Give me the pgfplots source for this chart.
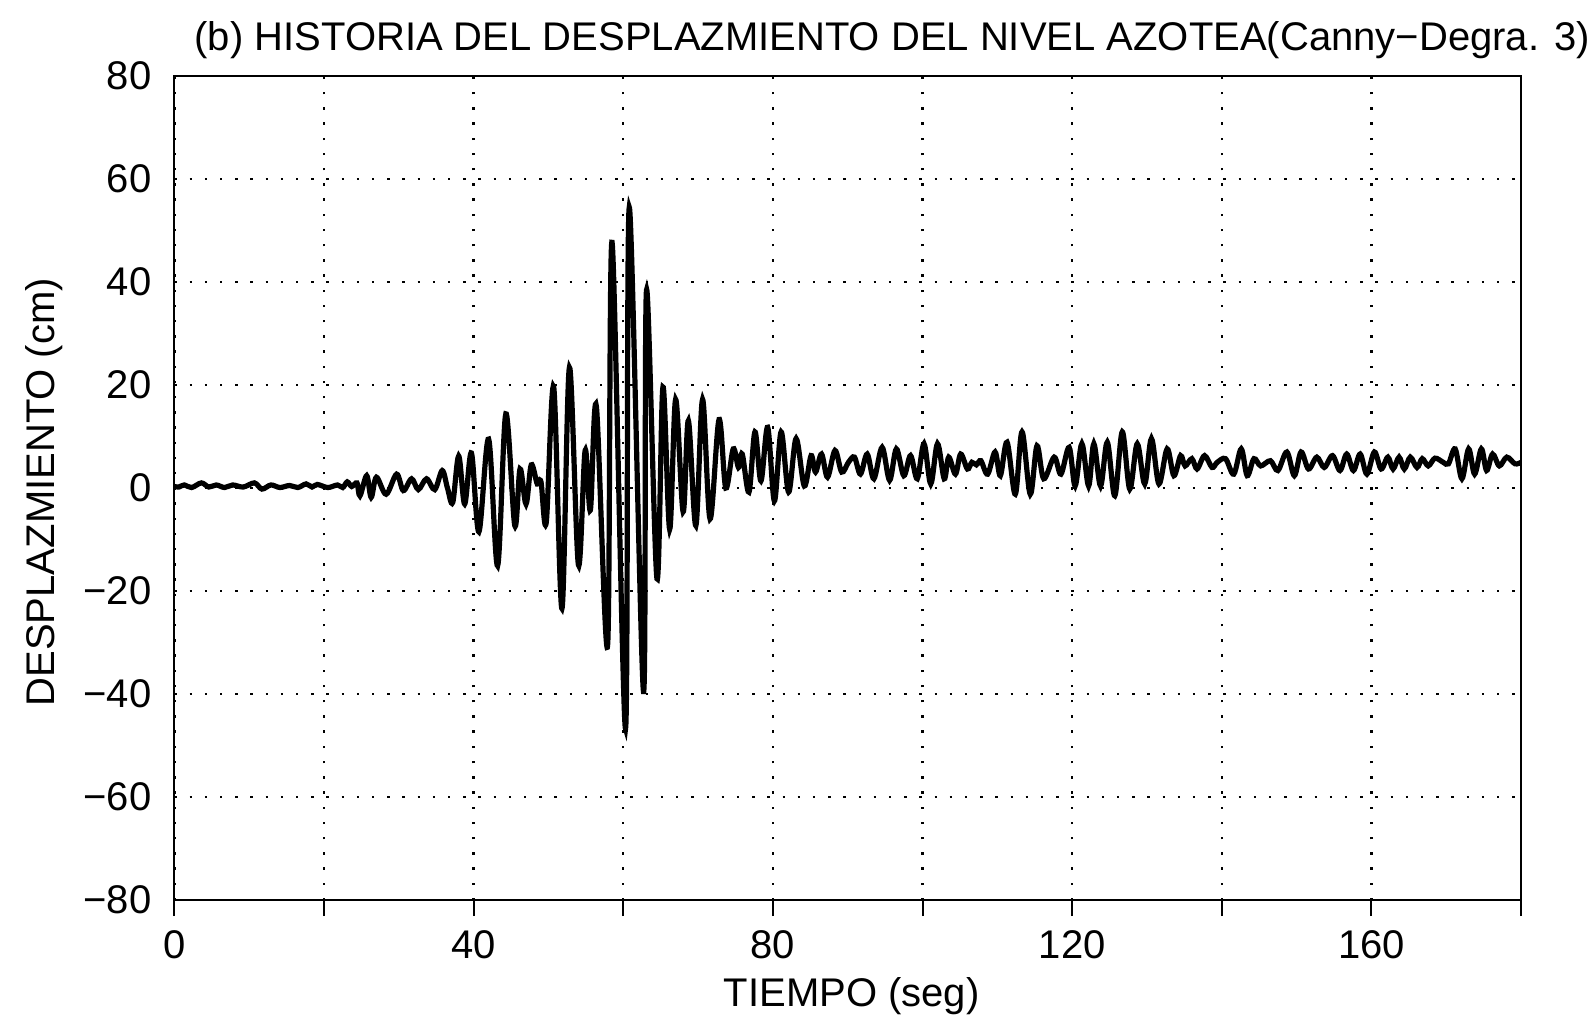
\documentclass[border=0pt]{standalone}
\usepackage{fontspec}
\setmainfont{Liberation Sans}
\usepackage{pgfplots}
\usepackage{pgfplotstable}
\pgfplotsset{compat=1.18}
\pgfplotstableread{
t v
0 0.3
0.6 0.2
1.3 0.6
2.3 0.1
3.6 1.0
4.6 0.2
5.6 0.6
6.7 0.1
7.8 0.6
9.2 0.2
10.7 1.0
11.7 -0.2
12.9 0.6
14.1 0.1
15.4 0.5
16.5 0.1
17.6 0.8
18.4 0.2
19.1 0.7
20.5 0.1
21.8 0.6
22.5 0.1
23.1 1.2
23.7 0.3
24.4 1.0
24.8 -1.5
25.7 2.4
26.3 -1.8
27.0 2.1
28.3 -1.2
29.7 2.7
30.6 -0.5
31.7 1.8
32.6 -0.3
33.7 1.8
34.8 -0.3
35.8 3.4
36.5 0.0
37.2 -2.8
38.0 6.2
38.8 -3.1
39.7 6.8
40.7 -8.5
42.0 9.5
43.2 -15.1
44.3 14.4
45.5 -7.3
46.2 3.7
47.0 -3.1
47.7 4.5
48.5 0.8
49.0 1.2
49.7 -6.7
50.7 19.6
51.8 -23.4
52.8 23.4
54.0 -14.9
54.9 7.3
55.6 -4.3
56.4 15.9
57.9 -30.6
58.5 47.7
60.3 -46.7
60.8 54.5
62.7 -39.5
63.1 38.4
64.5 -17.6
65.3 19.6
66.2 -8.0
67.0 17.2
68.0 -4.6
68.7 13.1
69.7 -7.3
70.6 17.2
71.6 -6.0
72.8 13.3
73.7 0.0
74.7 7.6
75.4 4.0
75.9 6.6
76.8 -0.8
77.6 10.9
78.4 1.4
79.3 11.8
80.2 -2.5
81.1 10.9
82.1 -0.8
83.1 9.6
84.2 0.4
85.1 6.3
85.7 3.1
86.5 6.6
87.3 2.1
88.3 7.3
89.2 3.1
90.1 5.0
90.9 6.0
91.7 2.7
92.6 6.6
93.5 1.8
94.6 7.9
95.6 1.5
96.5 7.6
97.5 2.4
98.4 6.3
99.3 1.8
100.2 8.6
101.1 0.8
102.0 8.6
102.9 1.8
103.5 6.0
104.4 2.7
105.1 6.6
106.0 3.7
106.6 5.0
107.2 4.5
107.8 5.3
108.7 2.7
109.7 7.0
110.4 2.4
111.3 8.9
112.4 -1.2
113.3 10.9
114.4 -1.2
115.3 8.2
116.2 1.8
117.6 6.0
118.5 2.7
119.6 7.9
120.4 0.4
121.3 8.6
122.2 0.4
122.9 8.6
123.8 0.4
124.7 8.9
125.7 -1.5
126.7 10.9
127.7 -0.2
128.7 8.6
129.7 0.8
130.6 9.6
131.6 0.8
132.7 7.6
133.6 2.4
134.5 6.3
135.1 4.3
136.0 5.7
136.7 3.7
137.7 6.3
138.7 4.0
139.4 5.0
140.5 5.7
141.6 2.7
142.6 7.6
143.4 2.4
144.3 5.7
145.2 4.3
146.5 5.3
147.5 3.4
148.7 7.0
149.7 2.4
150.6 7.0
151.6 3.7
152.7 6.0
153.7 4.0
154.8 6.3
155.8 3.4
156.7 6.6
157.6 3.4
158.5 6.6
159.4 2.7
160.4 7.0
161.3 3.7
162.2 6.0
162.9 3.7
163.7 6.0
164.4 3.7
165.2 6.0
166.1 4.0
166.8 5.7
167.6 4.3
168.5 5.8
169.6 5.0
170.3 4.7
171.2 7.6
172.1 1.8
173.0 7.6
173.8 2.7
174.7 7.6
175.4 3.4
176.2 6.6
177.1 4.3
178.1 6.0
179.2 4.7
180 5.0
}\disp
\begin{document}
\begin{tikzpicture}
\useasboundingbox (-43.6pt,-31.75pt) rectangle (354.1pt,225pt);
\begin{axis}[
  at={(0,0)}, anchor=south west,
  scale only axis, width=336.6pt, height=206pt,
  xmin=0, xmax=180, ymin=-80, ymax=80,
  xtick={0,20,...,180}, xticklabels={0,,40,,80,,120,,160,},
  ytick={-80,-60,...,80}, yticklabels={−80,−60,−40,−20,0,20,40,60,80},
  grid=major,
  major grid style={black, line width=0.6pt, dash pattern=on 0.6pt off 3.2pt},
  axis line style={line width=0.5pt},
  xtick pos=bottom, ytick pos=left, tick align=outside,
  major tick length=4pt,
  xtick style={black, line width=0.5pt},
  ytick style={draw=none},
  ticklabel style={font=\fontsize{10}{12}\selectfont},
  yticklabel style={xshift=1.8pt},
  every axis title shift=0pt,
  title={(b) HISTORIA DEL DESPLAZMIENTO DEL NIVEL AZOTEA(Canny−Degra. 3)},
  title style={at={(0.533,1.044)}, anchor=center, yshift=0pt, font=\fontsize{10}{12}\selectfont},
  xlabel={TIEMPO (seg)},
  xlabel style={at={(0.503,-0.117)}, anchor=center, font=\fontsize{10}{12}\selectfont},
  ylabel={DESPLAZMIENTO (cm)},
  ylabel style={at={(-0.097,0.495)}, anchor=center, rotate=0, font=\fontsize{10}{12}\selectfont},
]
\addplot[black, line width=1.3pt, smooth, tension=0.55] table[x=t, y=v] {\disp};
\end{axis}
\end{tikzpicture}
\end{document}
